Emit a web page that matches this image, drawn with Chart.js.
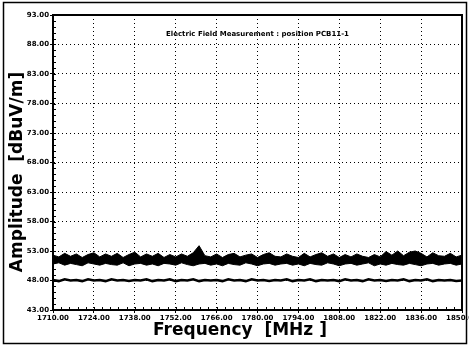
<!DOCTYPE html>
<html>
<head>
<meta charset="utf-8">
<script src="https://cdn.jsdelivr.net/npm/chart.js"></script>
<style>
  body { margin: 0; background: #fff; }
  canvas { display: block; }
</style>
</head>
<body>
<canvas id="grafico" width="469" height="346"></canvas>
<script>
// datos (MHz, dBuV/m)
const frecuencias = [1710,1712,1714,1716,1718,1720,1722,1724,1726,1728,
  1730,1732,1734,1736,1738,1740,1742,1744,1746,1748,
  1750,1752,1754,1756,1758,1760,1762,1764,1766,1768,
  1770,1772,1774,1776,1778,1780,1782,1784,1786,1788,
  1790,1792,1794,1796,1798,1800,1802,1804,1806,1808,
  1810,1812,1814,1816,1818,1820,1822,1824,1826,1828,
  1830,1832,1834,1836,1838,1840,1842,1844,1846,1848,
  1850];
// borde superior de la banda de ruido
const bandaMax = [52.3,52.0,52.6,52.1,52.5,51.9,52.4,52.7,52.0,52.5,
  52.1,52.6,51.9,52.4,52.8,52.0,52.5,52.1,52.6,51.9,
  52.4,52.0,52.5,52.1,52.7,53.9,52.2,52.0,52.5,51.9,
  52.4,52.6,52.0,52.3,52.5,51.9,52.4,52.7,52.1,52.0,
  52.5,52.1,51.9,52.6,52.0,52.4,52.7,52.1,52.5,51.9,
  52.4,52.0,52.5,52.1,51.9,52.4,52.0,52.9,52.3,53.0,
  52.2,52.8,53.0,52.6,52.0,52.7,52.2,52.1,52.6,52.0,
  52.3];
// borde inferior de la banda de ruido
const bandaMin = [50.8,51.0,50.6,50.9,50.7,50.5,51.0,50.8,50.6,50.9,
  50.7,50.6,51.0,50.5,50.8,50.9,50.6,50.8,50.5,50.9,
  50.8,50.6,51.0,50.7,50.5,50.8,50.9,50.6,50.8,50.5,
  50.9,50.7,50.6,51.0,50.8,50.5,50.8,50.9,50.6,50.8,
  50.9,50.6,50.8,50.5,50.9,50.7,50.6,51.0,50.8,50.5,
  50.8,50.9,50.6,50.8,51.0,50.5,50.8,50.6,50.9,50.7,
  50.6,50.9,50.7,50.5,50.8,50.9,50.6,50.8,50.9,50.6,
  50.8];
// traza inferior
const trazaBaja = [48.1,47.9,48.2,48.0,48.1,47.9,48.2,48.0,48.1,47.9,
  48.2,48.0,48.1,47.9,48.1,48.0,48.2,47.9,48.1,48.0,
  48.2,47.9,48.1,48.0,48.2,47.9,48.1,48.0,48.1,47.9,
  48.2,48.0,48.1,47.9,48.2,48.0,48.1,47.9,48.1,48.0,
  48.2,47.9,48.1,48.0,48.2,47.9,48.1,48.0,48.1,47.9,
  48.2,48.0,48.1,47.9,48.2,48.0,48.1,47.9,48.1,48.0,
  48.2,47.9,48.1,48.0,48.2,47.9,48.1,48.0,48.1,47.9,
  48.0];

const tituloGrafico = 'Electric Field Measurement : position PCB11-1';
const tituloX = 'Frequency  [MHz ]';
const tituloY = 'Amplitude  [dBuV/m]';
const yMin = 43, yMax = 93, yPaso = 5;
const xMin = 1710, xMax = 1850, xPaso = 14;

function puntos(valores) {
  return frecuencias.map((f, i) => ({ x: f, y: valores[i] }));
}

// marco, titulos y marcas menores
const decoracion = {
  id: 'decoracion',
  afterDatasetsDraw(chart) {
    const { ctx, chartArea: a, scales: { x, y } } = chart;
    ctx.save();
    ctx.strokeStyle = '#000';
    ctx.lineWidth = 2;
    ctx.strokeRect(a.left, a.top, a.right - a.left, a.bottom - a.top);

    ctx.lineWidth = 1;
    ctx.beginPath();
    for (let v = yMin; v <= yMax; v += 1) {
      const py = Math.round(y.getPixelForValue(v)) + 0.5;
      ctx.moveTo(a.left, py);
      ctx.lineTo(a.left + 3, py);
    }
    for (let v = xMin; v <= xMax + 0.01; v += xPaso / 5) {
      const px = Math.round(x.getPixelForValue(v)) + 0.5;
      ctx.moveTo(px, a.bottom);
      ctx.lineTo(px, a.bottom - 3);
    }
    ctx.stroke();

    ctx.fillStyle = '#000';
    ctx.textAlign = 'center';
    ctx.textBaseline = 'middle';
    ctx.font = "bold 7px 'DejaVu Sans'";
    ctx.fillText(tituloGrafico, (a.left + a.right) / 2, a.top + 19);

    ctx.font = "bold 17px 'DejaVu Sans'";
    ctx.fillText(tituloX, 240, 331);
    ctx.translate(18, 172);
    ctx.rotate(-Math.PI / 2);
    ctx.fillText(tituloY, 0, 0);
    ctx.setTransform(1, 0, 0, 1, 0, 0);

    ctx.lineWidth = 1.5;
    ctx.strokeRect(3.5, 2.5, 463, 341);
    ctx.restore();
  }
};

Chart.defaults.font.family = "'DejaVu Sans', sans-serif";
Chart.defaults.color = '#000';

new Chart(document.getElementById('grafico'), {
  type: 'line',
  data: {
    datasets: [{
      data: puntos(bandaMax),
      borderColor: '#000',
      borderWidth: 1,
      pointRadius: 0,
      fill: false
    }, {
      data: puntos(bandaMin),
      borderColor: '#000',
      borderWidth: 1,
      pointRadius: 0,
      backgroundColor: '#000',
      fill: '-1'
    }, {
      data: puntos(trazaBaja),
      borderColor: '#000',
      borderWidth: 2.5,
      pointRadius: 0,
      fill: false
    }]
  },
  options: {
    responsive: false,
    animation: false,
    layout: { padding: { top: 15, right: 7, left: 6, bottom: 4 } },
    plugins: {
      legend: { display: false },
      tooltip: { enabled: false }
    },
    scales: {
      x: {
        type: 'linear',
        min: xMin,
        max: xMax,
        ticks: {
          stepSize: xPaso,
          maxRotation: 0,
          autoSkip: false,
          padding: 1,
          font: { size: 7, weight: 'bold' },
          callback: v => v.toFixed(2)
        },
        grid: { color: '#000', lineWidth: 1, tickLength: 3 },
        border: { color: '#000', width: 2, dash: [1, 3] },
        afterFit: s => { s.height = 32; s.paddingLeft = 0; s.paddingRight = 0; }
      },
      y: {
        min: yMin,
        max: yMax,
        ticks: {
          stepSize: yPaso,
          padding: 1,
          font: { size: 7, weight: 'bold' },
          callback: v => v.toFixed(2)
        },
        grid: { color: '#000', lineWidth: 1, tickLength: 3 },
        border: { color: '#000', width: 2, dash: [1, 3] },
        afterFit: s => { s.width = 47; s.paddingTop = 0; s.paddingBottom = 0; }
      }
    }
  },
  plugins: [decoracion]
});
</script>
</body>
</html>
